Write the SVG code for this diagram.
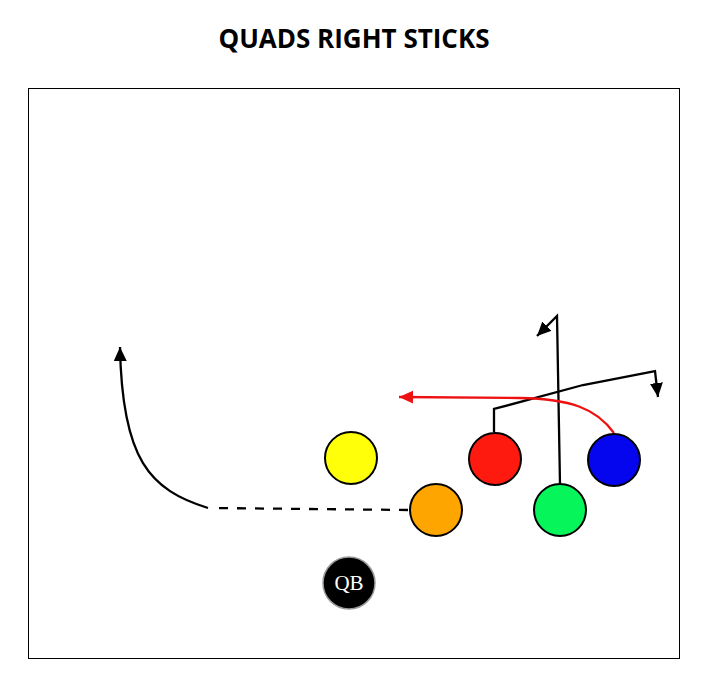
<svg xmlns="http://www.w3.org/2000/svg" width="713" height="691" viewBox="0 0 713 691">
<style>
.title{font-family:"Open Sans","Liberation Sans",sans-serif;font-weight:bold;font-size:26px;fill:#000}
.p{stroke:#000;stroke-width:2}
.r{fill:none;stroke:#000;stroke-width:2.3}
.qbt{font-family:"Liberation Serif",serif;font-size:21px;fill:#fff}
</style>
<defs>
<marker id="ah" markerUnits="userSpaceOnUse" markerWidth="16" markerHeight="16" refX="14" refY="6.5" orient="auto">
<path d="M0,0 L14,6.5 L0,13 z" fill="#000"/>
</marker>
<marker id="ahr" markerUnits="userSpaceOnUse" markerWidth="16" markerHeight="16" refX="14" refY="6.5" orient="auto">
<path d="M0,0 L14,6.5 L0,13 z" fill="#ee1111"/>
</marker>
</defs>
<rect width="713" height="691" fill="#fff"/>
<text class="title" x="354" y="48" text-anchor="middle">QUADS RIGHT STICKS</text>
<rect x="28.5" y="88.5" width="651" height="570" fill="none" stroke="#000" stroke-width="1"/>
<g id="connectors">
<path class="r" d="M408,510 L212,508" stroke-dasharray="9,9"/>
<path class="r" d="M208,508 C150,490 122,460 120,347" marker-end="url(#ah)"/>
<path class="r" d="M560,484 L557,316 L537,336" marker-end="url(#ah)"/>
<path class="r" d="M494,432 L494,409 L583,385 L655,371 L658,397" marker-end="url(#ah)"/>
<path d="M614,433 C596,408 570,399 520,398 L399,397" fill="none" stroke="#ee1111" stroke-width="2.3" marker-end="url(#ahr)"/>
</g>
<g id="yellow"><circle class="p" cx="351" cy="458" r="26" fill="#ffff0a"/></g>
<g id="red"><circle class="p" cx="495" cy="459" r="26" fill="#ff1a10"/></g>
<g id="blue"><circle class="p" cx="614" cy="460" r="26" fill="#0505ee"/></g>
<g id="orange"><circle class="p" cx="436" cy="510" r="26" fill="#ffa500"/></g>
<g id="green"><circle class="p" cx="560" cy="510" r="26" fill="#05f55a"/></g>
<g id="qb"><circle cx="349" cy="583" r="26" fill="#000" stroke="#999" stroke-width="1.5"/><text class="qbt" x="349" y="590" text-anchor="middle">QB</text></g>
</svg>
